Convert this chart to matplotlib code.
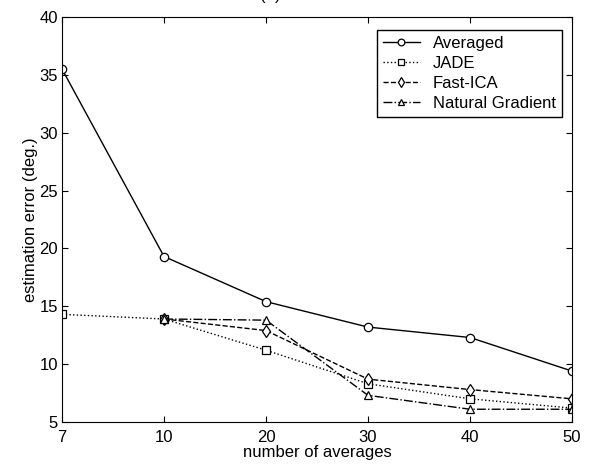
import numpy as np
import matplotlib
matplotlib.use("Agg")
import matplotlib.pyplot as plt

# data
n_avg = ["7", "10", "20", "30", "40", "50"]
averaged = [35.5, 19.3, 15.4, 13.2, 12.3, 9.4]
jade = [14.3, 13.9, 11.2, 8.3, 7.0, 6.2]
fast_ica = [13.9, 12.9, 8.7, 7.8, 7.0]      # from 10 onward
nat_grad = [13.9, 13.8, 7.3, 6.1, 6.1]      # from 10 onward

plt.rcParams.update({
    "font.family": ["Liberation Sans", "DejaVu Sans"],
    "font.size": 12,
})

fig = plt.figure(figsize=(5.93, 4.72), dpi=100)
ax = fig.add_axes([0.1046, 0.106, 0.86, 0.858])

x = np.arange(len(n_avg))
mk = dict(markerfacecolor="white", markeredgecolor="black", markersize=6,
          markeredgewidth=0.9, color="black", linewidth=1.0)

ax.plot(x, averaged, "-", marker="o", label="Averaged", **mk)
ax.plot(x, jade, ":", marker="s", label="JADE", **dict(mk, markersize=5.5))
ax.plot(x[1:], fast_ica, "--", marker="d", label="Fast-ICA", **mk)
ax.plot(x[1:], nat_grad, "-.", marker="^", label="Natural Gradient", **mk)

ax.set_xlim(0, len(n_avg) - 1)
ax.set_ylim(5, 40)
ax.set_xticks(x)
ax.set_xticklabels(n_avg)
ax.set_yticks(np.arange(5, 41, 5))
ax.tick_params(direction="in", top=True, right=True, length=4, pad=3)
ax.tick_params(axis="x", pad=6)
ax.set_xlabel("number of averages", labelpad=0)
ax.set_ylabel("estimation error (deg.)", labelpad=1)

leg = ax.legend(loc="upper right", bbox_to_anchor=(0.98, 0.968), fancybox=False,
                framealpha=1, edgecolor="black", handlelength=2.2,
                borderpad=0.35, labelspacing=0.3, handletextpad=0.8,
                borderaxespad=0, fontsize=12, markerscale=0.8)
leg.get_frame().set_linewidth(1.0)

# title mostly cut off at the top, as in the source scan
fig.text(0.455, 1.01, "(a)", ha="center", va="center", fontsize=12)

fig.savefig("out.png", dpi=100, facecolor="white")
